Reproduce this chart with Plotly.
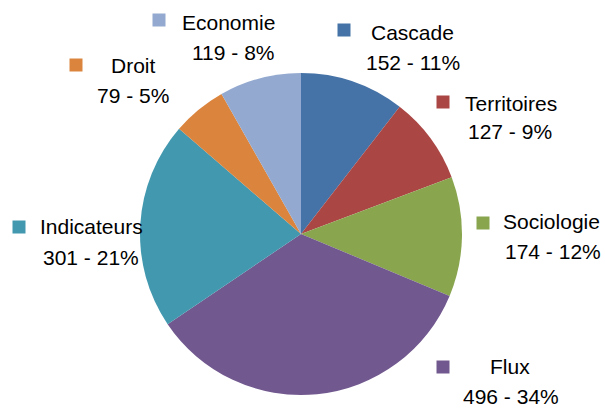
import plotly.graph_objects as go

categories = ["Cascade", "Territoires", "Sociologie", "Flux", "Indicateurs", "Droit", "Economie"]
values = [152, 127, 174, 496, 301, 79, 119]
percents = [11, 9, 12, 34, 21, 5, 8]
colors = ["#4572A7", "#AA4643", "#89A54E", "#71588F", "#4198AF", "#DB843D", "#93A9CF"]

# label layout (pixel positions in the 605x409 canvas): name line, value line, key square
name_pos = {"Cascade": (412, 33), "Territoires": (511, 103), "Sociologie": (551, 222),
            "Flux": (510, 366), "Indicateurs": (92, 227), "Droit": (133, 65), "Economie": (228, 22)}
value_pos = {"Cascade": (413, 62), "Territoires": (510, 132), "Sociologie": (553, 252),
             "Flux": (511, 396), "Indicateurs": (91, 257), "Droit": (133, 95), "Economie": (233, 52)}
key_pos = {"Cascade": (344, 30), "Territoires": (443, 102), "Sociologie": (483, 223),
           "Flux": (443, 367), "Indicateurs": (19, 227), "Droit": (76, 65), "Economie": (159, 20)}

W, H = 605, 409
FONT = "Liberation Sans, Arial, sans-serif"

fig = go.Figure(go.Pie(
    labels=categories, values=values, sort=False, direction="clockwise", rotation=0,
    marker=dict(colors=colors, line=dict(width=0)),
    textinfo="none", hoverinfo="label+value+percent", showlegend=False,
    domain=dict(x=[140 / W, 462 / W], y=[1 - 395 / H, 1 - 73 / H]),
))

annotations = []
shapes = []
for c, v, p, col in zip(categories, values, percents, colors):
    nx, ny = name_pos[c]
    vx, vy = value_pos[c]
    kx, ky = key_pos[c]
    annotations.append(dict(x=nx / W, y=1 - ny / H, xref="paper", yref="paper", text=c,
                            showarrow=False, xanchor="center", yanchor="middle",
                            font=dict(family=FONT, size=21, color="#000000")))
    annotations.append(dict(x=vx / W, y=1 - vy / H, xref="paper", yref="paper",
                            text=f"{v} - {p}%", showarrow=False, xanchor="center",
                            yanchor="middle", font=dict(family=FONT, size=21, color="#000000")))
    s = 6.5
    shapes.append(dict(type="rect", xref="paper", yref="paper",
                       x0=(kx - s) / W, x1=(kx + s) / W, y0=1 - (ky + s) / H, y1=1 - (ky - s) / H,
                       fillcolor=col, line=dict(width=0)))

fig.update_layout(width=W, height=H, margin=dict(l=0, r=0, t=0, b=0),
                  paper_bgcolor="white", plot_bgcolor="white",
                  annotations=annotations, shapes=shapes)
fig.write_html("out.html", config={"displayModeBar": False},
               post_script="document.body.style.margin='0';")
